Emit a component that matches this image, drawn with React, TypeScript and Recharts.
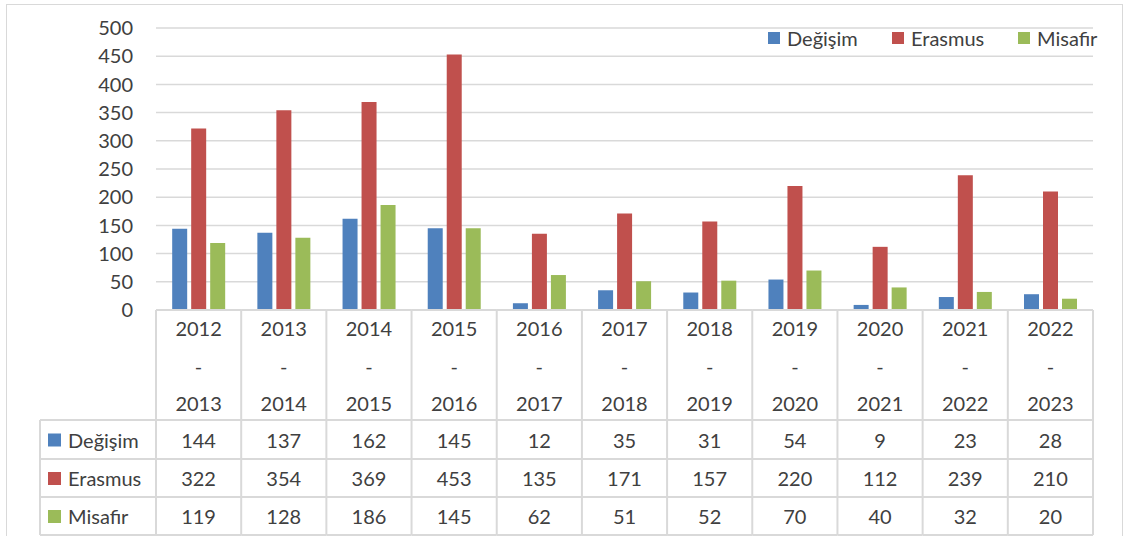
import { BarChart, Bar, XAxis, YAxis, CartesianGrid } from "recharts"

const seasons = [
  "2012-2013", "2013-2014", "2014-2015", "2015-2016", "2016-2017", "2017-2018",
  "2018-2019", "2019-2020", "2020-2021", "2021-2022", "2022-2023",
]
const degisim = [144, 137, 162, 145, 12, 35, 31, 54, 9, 23, 28]
const erasmus = [322, 354, 369, 453, 135, 171, 157, 220, 112, 239, 210]
const misafir = [119, 128, 186, 145, 62, 51, 52, 70, 40, 32, 20]
const yTicks = [0, 50, 100, 150, 200, 250, 300, 350, 400, 450, 500]

const series = [
  { key: "degisim", name: "Değişim", color: "#4F81BD", values: degisim },
  { key: "erasmus", name: "Erasmus", color: "#C0504D", values: erasmus },
  { key: "misafir", name: "Misafir", color: "#9BBB59", values: misafir },
]

const data = seasons.map((season, i) => ({
  season,
  degisim: degisim[i],
  erasmus: erasmus[i],
  misafir: misafir[i],
}))

const W = 1126
const H = 536
const PLOT_LEFT = 156
const PLOT_RIGHT = 1093
const COL_W = (PLOT_RIGHT - PLOT_LEFT) / seasons.length
const LABEL_LEFT = 40
const GRID = "#d9d9d9"
const TEXT = "#404040"
const FONT = 20

// row layout of the data table, relative to the axis line
const HEADER_LINES = [18, 56, 93]
const ROW_LINES = [110, 149, 187, 225]

function TableTick(props: any) {
  const { x, y, payload, index } = props
  const left = x - COL_W / 2
  const right = x + COL_W / 2
  const [from, to] = String(payload.value).split("-")
  const isLast = index === seasons.length - 1

  return (
    <g>
      <line x1={left} x2={right} y1={y} y2={y} stroke={GRID} strokeWidth={2} />
      <line x1={left} x2={left} y1={y} y2={y + ROW_LINES[3]} stroke={GRID} strokeWidth={2} />
      {isLast && (
        <line x1={right} x2={right} y1={y} y2={y + ROW_LINES[3]} stroke={GRID} strokeWidth={2} />
      )}
      {ROW_LINES.map((r) => (
        <line key={r} x1={left} x2={right} y1={y + r} y2={y + r} stroke={GRID} strokeWidth={2} />
      ))}
      {[from, "-", to].map((t, i) => (
        <text key={i} x={x} y={y + HEADER_LINES[i]} textAnchor="middle" dominantBaseline="central" fill={TEXT} fontSize={FONT}>
          {t}
        </text>
      ))}
      {series.map((s, i) => (
        <text
          key={s.key}
          x={x}
          y={y + (ROW_LINES[i] + ROW_LINES[i + 1]) / 2}
          textAnchor="middle"
          dominantBaseline="central"
          fill={TEXT}
          fontSize={FONT}
        >
          {s.values[index]}
        </text>
      ))}
      {index === 0 && (
        <g>
          <line x1={LABEL_LEFT} x2={LABEL_LEFT} y1={y + ROW_LINES[0]} y2={y + ROW_LINES[3]} stroke={GRID} strokeWidth={2} />
          {ROW_LINES.map((r) => (
            <line key={r} x1={LABEL_LEFT} x2={left} y1={y + r} y2={y + r} stroke={GRID} strokeWidth={2} />
          ))}
          {series.map((s, i) => {
            const cy = y + (ROW_LINES[i] + ROW_LINES[i + 1]) / 2
            return (
              <g key={s.key}>
                <rect x={LABEL_LEFT + 8} y={cy - 6} width={13} height={13} fill={s.color} />
                <text x={LABEL_LEFT + 28} y={cy} dominantBaseline="central" fill={TEXT} fontSize={FONT}>
                  {s.name}
                </text>
              </g>
            )
          })}
        </g>
      )}
    </g>
  )
}

const LEGEND_X = [768, 892, 1018]

export default function App() {
  return (
    <div
      style={{
        position: "absolute",
        left: 0,
        top: 0,
        width: W,
        height: H,
        overflow: "hidden",
        background: "#fff",
        fontFamily: "Lato, sans-serif",
      }}
    >
      <div
        style={{
          position: "absolute",
          left: 6,
          top: 4,
          width: 1115,
          height: 600,
          border: `1.5px solid ${GRID}`,
        }}
      />
      <BarChart
        width={W}
        height={H}
        data={data}
        margin={{ top: 28, right: W - PLOT_RIGHT, bottom: 0, left: 96 }}
        barCategoryGap="19%"
        barGap={4}
        style={{ position: "absolute", left: 0, top: 0 }}
      >
        <CartesianGrid vertical={false} stroke={GRID} strokeWidth={1.5} />
        <YAxis
          width={60}
          domain={[0, 500]}
          ticks={yTicks}
          axisLine={false}
          tickLine={false}
          tickMargin={17}
          tick={{ fill: TEXT, fontSize: FONT }}
        />
        <XAxis
          dataKey="season"
          height={226}
          axisLine={false}
          tickLine={false}
          tickSize={0}
          tickMargin={0}
          interval={0}
          tick={<TableTick />}
        />
        {series.map((s) => (
          <Bar key={s.key} dataKey={s.key} name={s.name} fill={s.color} isAnimationActive={false} />
        ))}
      </BarChart>
      {series.map((s, i) => (
        <div
          key={s.key}
          style={{
            position: "absolute",
            left: LEGEND_X[i],
            top: 26,
            display: "flex",
            alignItems: "center",
            gap: 7,
            fontSize: FONT,
            color: TEXT,
            lineHeight: "24px",
          }}
        >
          <span style={{ width: 12, height: 12, background: s.color, display: "inline-block" }} />
          <span>{s.name}</span>
        </div>
      ))}
    </div>
  )
}
